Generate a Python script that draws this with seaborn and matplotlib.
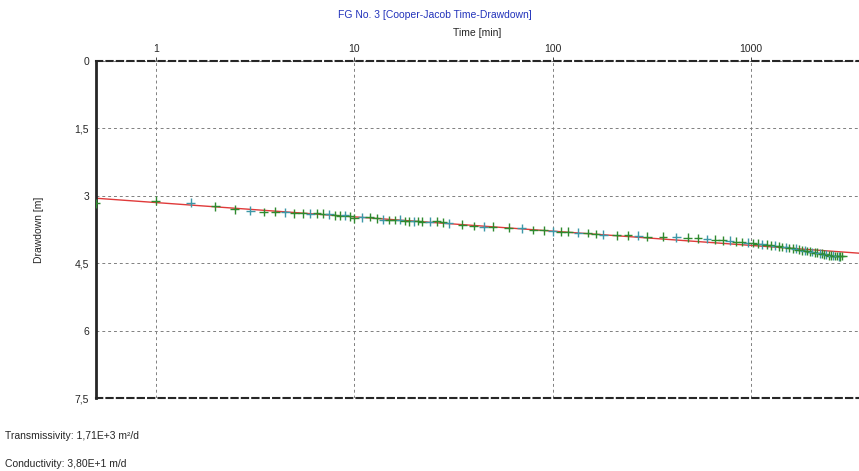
import seaborn as sns
import pandas as pd
import matplotlib.pyplot as plt
import numpy as np

sns.set_style('white')
plt.rcParams['font.family'] = ['Liberation Sans', 'DejaVu Sans']
plt.rcParams['font.size'] = 7.5

# measured drawdown (min, m)
time_min = [0.5, 1, 1.5, 2, 2.5, 3, 3.5, 4, 4.5, 5, 5.5, 6, 6.5, 7, 7.5, 8, 8.5, 9, 9.5, 10,
            11, 12, 13, 14, 15, 16, 17, 18, 19, 20, 21, 22, 24, 26, 28, 30, 35, 40, 45, 50,
            60, 70, 80, 90, 100, 110, 120, 135, 150, 165, 180, 210, 240, 270, 300,
            360, 420, 480, 540, 600, 660, 720, 780, 840, 900, 960, 1020, 1080, 1140, 1200,
            1260, 1320, 1380, 1440, 1500, 1560, 1620, 1680, 1740, 1800, 1860, 1920, 1980,
            2040, 2100, 2160, 2220, 2280, 2340, 2400, 2460, 2520, 2580, 2640, 2700, 2760,
            2820, 2880]
drawdown_m = [3.17, 3.11, 3.15, 3.23, 3.30, 3.33, 3.36, 3.35, 3.37, 3.39, 3.39, 3.40, 3.39, 3.40,
              3.41, 3.43, 3.44, 3.43, 3.46, 3.50, 3.48, 3.47, 3.50, 3.53, 3.54, 3.54, 3.53, 3.56,
              3.57, 3.57, 3.56, 3.58, 3.58, 3.57, 3.59, 3.61, 3.64, 3.67, 3.69, 3.69, 3.71, 3.72,
              3.76, 3.77, 3.79, 3.80, 3.80, 3.82, 3.83, 3.85, 3.87, 3.88, 3.88, 3.89, 3.91,
              3.91, 3.92, 3.93, 3.95, 3.96, 3.98, 3.99, 4.00, 4.02, 4.03, 4.04, 4.05, 4.07,
              4.08, 4.09, 4.10, 4.11, 4.12, 4.14, 4.15, 4.16, 4.17, 4.18, 4.20, 4.21, 4.22,
              4.23, 4.24, 4.25, 4.27, 4.27, 4.28, 4.29, 4.30, 4.31, 4.32, 4.33, 4.33, 4.34,
              4.34, 4.35, 4.35, 4.34]

# straight line fit s = a + b*log10(t)
fit_intercept = 3.15
fit_slope = 0.318

y_ticks = [0, 1.5, 3, 4.5, 6, 7.5]
y_tick_labels = ['0', '1,5', '3', '4,5', '6', '7,5']
x_ticks = [1, 10, 100, 1000]
x_tick_labels = ['1', '10', '100', '1000']

colors = ["#2f8a2f", "#3d98a8"]


def plot_cooper_jacob():
    fig = plt.figure(figsize=(8.59, 4.71), dpi=100)
    ax = fig.add_axes([96 / 859, 1 - 398 / 471, 1 - 96 / 859, 337 / 471])

    data = pd.DataFrame({'time': time_min, 'drawdown': drawdown_m})
    data['group'] = ['b' if i % 3 == 2 else 'a' for i in range(len(data))]

    xlim = (0.5, 3500)
    t_fit = np.logspace(np.log10(xlim[0]), np.log10(xlim[1]), 50)
    fit = pd.DataFrame({'time': t_fit, 'drawdown': fit_intercept + fit_slope * np.log10(t_fit)})
    sns.lineplot(data=fit, x='time', y='drawdown', color='#e03a3a', linewidth=1.0, ax=ax)

    sns.scatterplot(data=data, x='time', y='drawdown', hue='group', hue_order=['a', 'b'],
                    palette=colors, marker='+', s=40, linewidth=1.0, legend=False, ax=ax,
                    zorder=3)

    ax.set_xscale('log')
    ax.set_xlim(*xlim)
    ax.set_ylim(7.5, 0)
    ax.xaxis.tick_top()
    ax.xaxis.set_label_position('top')
    ax.set_xticks(x_ticks)
    ax.set_xticklabels(x_tick_labels)
    ax.xaxis.set_minor_locator(plt.NullLocator())
    ax.set_yticks(y_ticks)
    ax.set_yticklabels(y_tick_labels)
    ax.tick_params(length=3, width=0.6, pad=2, labelsize=7.5)
    ax.grid(True, color='#808080', linestyle=(0, (3, 3)), linewidth=0.7)

    ax.set_xlabel('Time [min]', labelpad=6, fontsize=7.5)
    ax.set_ylabel('Drawdown [m]', labelpad=22, fontsize=7.5)
    fig.text(0.5 * (1 + 96 / 859) - 0.05, 1 - 15 / 471, 'FG No. 3 [Cooper-Jacob Time-Drawdown]',
             color='#2233bb', fontsize=7.5, ha='center', va='center')

    ax.spines['right'].set_visible(False)
    ax.spines['left'].set_linewidth(2.0)
    for side in ['top', 'bottom']:
        ax.spines[side].set_linewidth(1.5)
        ax.spines[side].set_linestyle((0, (3, 2)))

    fig.text(5 / 859, 1 - 436 / 471, 'Transmissivity: 1,71E+3 m\u00b2/d', fontsize=7.5, va='center')
    fig.text(5 / 859, 1 - 464 / 471, 'Conductivity: 3,80E+1 m/d', fontsize=7.5, va='center')

    fig.savefig('out.png', dpi=100)


plot_cooper_jacob()
